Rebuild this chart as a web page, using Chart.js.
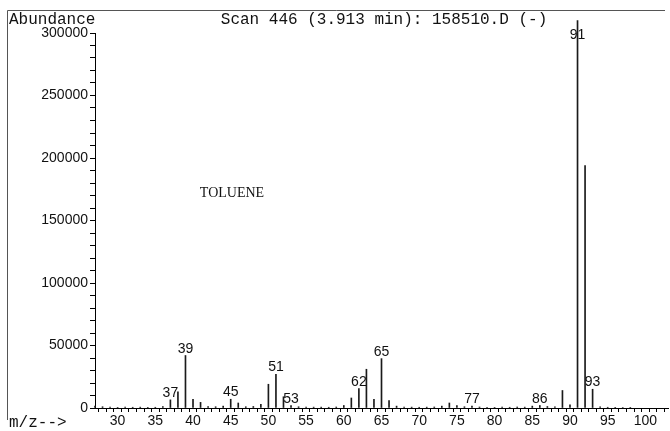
<!DOCTYPE html>
<html>
<head>
<meta charset="utf-8">
<title>Toluene mass spectrum</title>
<script src="https://cdn.jsdelivr.net/npm/chart.js@4.4.0/dist/chart.umd.min.js"></script>
<style>
  body { margin: 0; background: #fff; }
  #wrap { width: 670px; height: 431px; }
</style>
</head>
<body>
<div id="wrap"><canvas id="myChart" width="670" height="431"></canvas></div>
<script>
'use strict';

// m/z values and abundances
let mz = [27, 28, 29, 30, 31, 32, 33, 34, 35, 36, 37, 38, 39, 40, 41, 42, 43, 44, 45, 46,
  47, 48, 49, 50, 51, 52, 53, 54, 55, 56, 57, 58, 59, 60, 61, 62, 63, 64, 65, 66,
  67, 68, 69, 70, 71, 72, 73, 74, 75, 76, 77, 78, 79, 80, 81, 82, 83, 84, 85, 86,
  87, 88, 89, 90, 91, 92, 93, 94, 95, 96, 97, 98];
let abundance = [1500, 1000, 800, 500, 800, 600, 700, 500, 600, 1200, 6500, 13000, 42000, 7000, 4500, 1200, 1000, 1500, 7000, 4000,
  1000, 1200, 3000, 19000, 27000, 9000, 2000, 1000, 800, 700, 700, 600, 800, 2000, 8000, 15500, 31000, 7000, 39500, 6000,
  1500, 800, 700, 600, 700, 800, 1500, 4000, 2000, 1000, 1500, 800, 600, 500, 700, 600, 800, 700, 1500, 2000,
  1200, 1000, 14000, 2500, 310000, 194000, 15000, 1000, 600, 500, 400, 300];

// peaks that carry a number above them
let labelledPeaks = [37, 39, 45, 51, 53, 62, 65, 77, 86, 91, 93];

let xMin = 27;
let xMax = 103;
let yMax = 300000;

let titleText = 'Scan 446 (3.913 min): 158510.D (-)';
let compoundName = 'TOLUENE';

let points = [];
for (let i = 0; i < mz.length; i++) {
    points.push({ x: mz[i], y: abundance[i] });
}

let monoFont = '"Liberation Mono", "DejaVu Sans Mono", monospace';
let sansFont = '"Liberation Sans", Arial, sans-serif';

// texts, frame and peak numbers
let decorPlugin = {
    id: 'decor',
    afterDraw(chart) {
        let ctx = chart.ctx;
        let area = chart.chartArea;
        let xs = chart.scales.x;
        let ys = chart.scales.y;
        ctx.save();

        // frame at top and left
        ctx.strokeStyle = '#555';
        ctx.lineWidth = 1;
        ctx.beginPath();
        ctx.moveTo(7.5, 10.5);
        ctx.lineTo(665, 10.5);
        ctx.moveTo(7.5, 10.5);
        ctx.lineTo(7.5, 420);
        ctx.stroke();

        ctx.fillStyle = '#111';
        ctx.font = '16px ' + monoFont;
        ctx.textBaseline = 'alphabetic';
        ctx.textAlign = 'left';
        ctx.fillText('Abundance', 9, 24);
        ctx.fillText('m/z-->', 9, 427);
        ctx.textAlign = 'center';
        ctx.fillText(titleText, 384, 24);

        ctx.font = '14px "Liberation Serif", "Times New Roman", serif';
        ctx.fillText(compoundName, 232, 197);

        // peak numbers
        ctx.font = '14px ' + sansFont;
        for (let i = 0; i < labelledPeaks.length; i++) {
            let m = labelledPeaks[i];
            let v = abundance[mz.indexOf(m)];
            let px = xs.getPixelForValue(m);
            let py = ys.getPixelForValue(v) - 3;
            if (py < area.top + 6) {
                py = area.top + 6;
            }
            ctx.fillText(String(m), px, py);
        }
        ctx.restore();
    }
};

let ctx = document.getElementById('myChart').getContext('2d');
let myChart = new Chart(ctx, {
    type: 'bar',
    data: {
        datasets: [{
            label: 'Abundance',
            data: points,
            backgroundColor: '#1a1a1a',
            borderWidth: 0,
            barThickness: 1,
            clip: false
        }]
    },
    options: {
        responsive: false,
        animation: false,
        layout: { padding: { top: 33, right: 2, left: 0, bottom: 0 } },
        plugins: {
            legend: { display: false },
            tooltip: { enabled: false }
        },
        scales: {
            x: {
                type: 'linear',
                min: xMin,
                max: xMax,
                offset: false,
                border: { display: true, color: '#000', width: 1 },
                grid: { drawOnChartArea: false, tickLength: 4, color: '#000' },
                ticks: {
                    stepSize: 1,
                    autoSkip: false,
                    maxRotation: 0,
                    padding: 1,
                    color: '#111',
                    font: { family: sansFont, size: 14 },
                    callback: function (v) { return v % 5 === 0 ? String(v) : ''; }
                },
                afterFit: function (s) { s.height = 23; }
            },
            y: {
                min: 0,
                max: yMax,
                border: { display: true, color: '#000', width: 1 },
                grid: { drawOnChartArea: false, tickLength: 5, color: '#000' },
                ticks: {
                    stepSize: 10000,
                    autoSkip: false,
                    includeBounds: false,
                    padding: 2,
                    color: '#111',
                    font: { family: sansFont, size: 14 },
                    callback: function (v) { return v % 50000 === 0 ? String(v) : ''; }
                },
                afterFit: function (s) { s.width = 95; }
            }
        }
    },
    plugins: [decorPlugin]
});
</script>
</body>
</html>
